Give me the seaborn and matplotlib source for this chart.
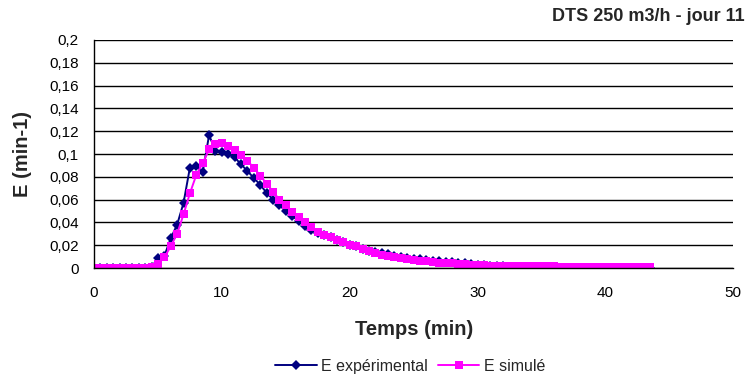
import numpy as np
import pandas as pd
import matplotlib
matplotlib.use("Agg")
import matplotlib.pyplot as plt
import seaborn as sns

# Temps (min), pas de 0,5 min
temps = [0.0, 0.5, 1.0, 1.5, 2.0, 2.5, 3.0, 3.5, 4.0, 4.5,
         5.0, 5.5, 6.0, 6.5, 7.0, 7.5, 8.0, 8.5, 9.0, 9.5,
         10.0, 10.5, 11.0, 11.5, 12.0, 12.5, 13.0, 13.5, 14.0, 14.5,
         15.0, 15.5, 16.0, 16.5, 17.0, 17.5, 18.0, 18.5, 19.0, 19.5,
         20.0, 20.5, 21.0, 21.5, 22.0, 22.5, 23.0, 23.5, 24.0, 24.5,
         25.0, 25.5, 26.0, 26.5, 27.0, 27.5, 28.0, 28.5, 29.0, 29.5,
         30.0, 30.5, 31.0, 31.5, 32.0, 32.5, 33.0, 33.5, 34.0, 34.5,
         35.0, 35.5, 36.0, 36.5, 37.0, 37.5, 38.0, 38.5, 39.0, 39.5,
         40.0, 40.5, 41.0, 41.5, 42.0, 42.5, 43.0, 43.5]

# E experimental (min-1)
e_exp = [0, 0, 0, 0, 0, 0, 0, 0, 0, 0.001,
         0.0085, 0.0105, 0.026, 0.038, 0.057, 0.088, 0.0895, 0.084, 0.1165, 0.103,
         0.102, 0.100, 0.097, 0.091, 0.085, 0.079, 0.073, 0.066, 0.060, 0.055,
         0.050, 0.046, 0.041, 0.037, 0.033, 0.031, 0.029, 0.027, 0.025, 0.023,
         0.020, 0.019, 0.017, 0.015, 0.014, 0.013, 0.012, 0.011, 0.0095, 0.009,
         0.008, 0.0075, 0.007, 0.0065, 0.006, 0.0055, 0.005, 0.0045, 0.004, 0.0035,
         0.003, 0.0025, 0.002, 0.0018, 0.0015, 0.0012, 0.001, 0.001, 0.0008, 0.0008,
         0.0006, 0.0006, 0.0005, 0.0003, 0.0003, 0.0002, 0.0002, 0.0002, 0.0001, 0.0001,
         0.0001, 0.0001, 0, 0, 0, 0, 0, 0]

# E simule (min-1)
e_sim = [0, 0, 0, 0, 0, 0, 0, 0, 0, 0.0005,
         0.0035, 0.0094, 0.019, 0.030, 0.047, 0.0655, 0.0816, 0.092, 0.104, 0.109,
         0.110, 0.107, 0.1035, 0.099, 0.094, 0.088, 0.081, 0.074, 0.067, 0.060,
         0.055, 0.049, 0.045, 0.0405, 0.036, 0.032, 0.029, 0.027, 0.0245, 0.023,
         0.020, 0.019, 0.0165, 0.015, 0.0136, 0.0115, 0.0105, 0.0095, 0.0085, 0.0076,
         0.007, 0.0064, 0.0058, 0.0052, 0.0048, 0.0044, 0.0041, 0.0036, 0.0032, 0.0029,
         0.0026, 0.0024, 0.0022, 0.002, 0.0018, 0.0018, 0.0018, 0.0018, 0.0018, 0.0018,
         0.0018, 0.0018, 0.0018, 0.0005, 0.0005, 0.0005, 0.0005, 0.0005, 0.0005, 0.0005,
         0.0005, 0.0005, 0.0005, 0.0005, 0.0005, 0.0005, 0.0005, 0.0005]

series = ["E expérimental", "E simulé"]
couleurs = ["#000080", "#FF00FF"]

df = pd.concat([
    pd.DataFrame({"Temps": temps, "E": e_exp, "Serie": series[0]}),
    pd.DataFrame({"Temps": temps, "E": e_sim, "Serie": series[1]}),
])

sns.set_style("white")
plt.rcParams["font.family"] = ["Liberation Sans", "DejaVu Sans"]

fig = plt.figure(figsize=(7.46, 3.77), dpi=100)
ax = fig.add_axes([0.126, 0.289, 0.857, 0.605])

sns.lineplot(data=df, x="Temps", y="E", hue="Serie", style="Serie",
             palette=dict(zip(series, couleurs)),
             markers={series[0]: "D", series[1]: "s"}, dashes=False,
             markersize=5.5, linewidth=1.4, markeredgewidth=0, ax=ax,
             legend=False)

ax.set_xlim(0, 50)
ax.set_ylim(0, 0.2)
ax.set_xticks(range(0, 51, 10))
yt = np.round(np.arange(0, 0.201, 0.02), 2)
ax.set_yticks(yt)
ax.set_yticklabels(["0" if v == 0 else f"{v:g}".replace(".", ",") for v in yt])
ax.tick_params(axis="both", labelsize=11, direction="out", length=5, width=1, colors="black")
ax.tick_params(axis="x", pad=8)
ax.tick_params(axis="y", pad=6)
ax.yaxis.grid(True, color="black", linewidth=1)
ax.xaxis.grid(False)
for s in ["top", "right"]:
    ax.spines[s].set_visible(False)
for s in ["left", "bottom"]:
    ax.spines[s].set_color("black")
    ax.spines[s].set_linewidth(1)

ax.set_xlabel("Temps (min)", fontsize=14.5, fontweight="bold", labelpad=14)
ax.set_ylabel("E (min-1)", fontsize=14.5, fontweight="bold", labelpad=12)

fig.text(0.998, 0.955, "DTS 250 m3/h - jour 11", ha="right", va="center",
         fontsize=13, fontweight="bold")

handles = [plt.Line2D([], [], color=couleurs[0], marker="D", markersize=5, lw=1.4, markeredgewidth=0),
           plt.Line2D([], [], color=couleurs[1], marker="s", markersize=5.5, lw=1.4, markeredgewidth=0)]
fig.legend(handles, series, loc="center", bbox_to_anchor=(0.55, 0.028), ncol=2,
           frameon=False, fontsize=11.5, handlelength=2.6, handletextpad=0.3,
           columnspacing=0.6)

fig.savefig("out.png", dpi=100)
